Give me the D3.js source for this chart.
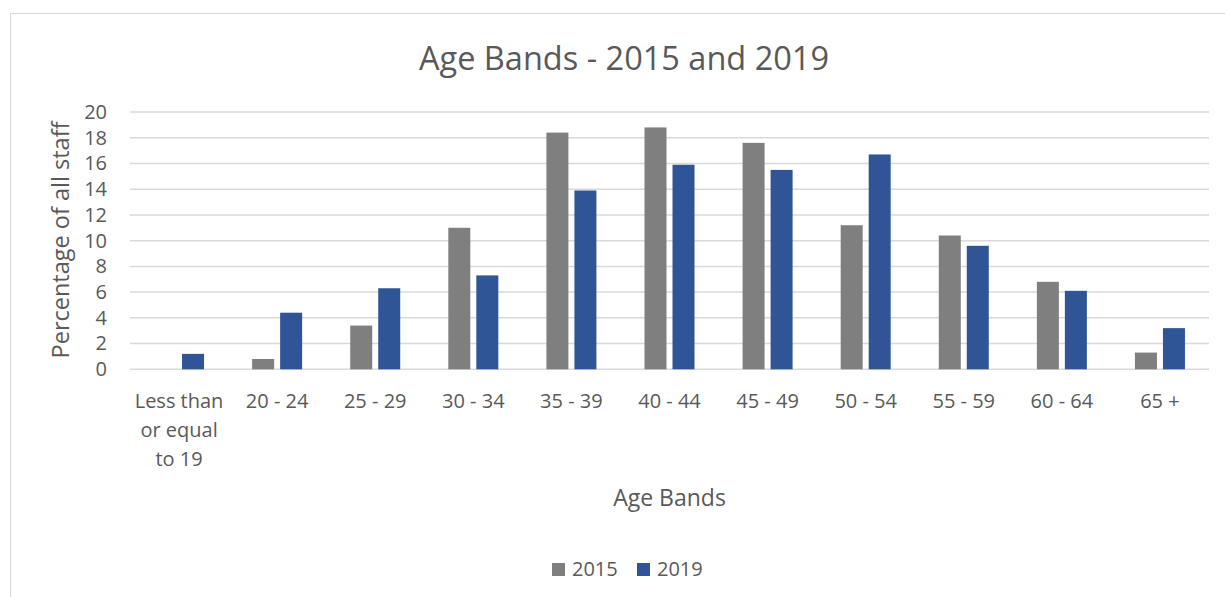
<!DOCTYPE html>
<html>
<head>
<meta charset="utf-8">
<script src="https://cdn.jsdelivr.net/npm/d3@7"></script>
<style>
  html, body { margin: 0; padding: 0; background: #fff; }
  svg { display: block; }
  text { font-family: "Open Sans", "Lato", sans-serif; fill: #595959; }
</style>
</head>
<body>
<svg id="chart" width="1225" height="597"></svg>
<script>
// Age band categories (x axis)
const categories = [
  "Less than or equal to 19", "20 - 24", "25 - 29", "30 - 34", "35 - 39",
  "40 - 44", "45 - 49", "50 - 54", "55 - 59", "60 - 64", "65 +"
];
// Labels wrapped onto lines as drawn under the axis
const categoryLines = [
  ["Less than", "or equal", "to 19"], ["20 - 24"], ["25 - 29"], ["30 - 34"], ["35 - 39"],
  ["40 - 44"], ["45 - 49"], ["50 - 54"], ["55 - 59"], ["60 - 64"], ["65 +"]
];
// Percentage of all staff per band
const series = ["2015", "2019"];
const values2015 = [0, 0.8, 3.4, 11.0, 18.4, 18.8, 17.6, 11.2, 10.4, 6.8, 1.3];
const values2019 = [1.2, 4.4, 6.3, 7.3, 13.9, 15.9, 15.5, 16.7, 9.6, 6.1, 3.2];
const yTicks = [0, 2, 4, 6, 8, 10, 12, 14, 16, 18, 20];
const colors = { "2015": "#7f7f7f", "2019": "#2f5597" };

const rows = categories.map((c, i) => ({ cat: c, lines: categoryLines[i], "2015": values2015[i], "2019": values2019[i] }));

const svg = d3.select("#chart");

// outer chart frame
svg.append("rect")
  .attr("x", 10.5).attr("y", 13.5)
  .attr("width", 1240).attr("height", 620)
  .attr("fill", "none").attr("stroke", "#d9d9d9").attr("stroke-width", 1);

const plot = { left: 130, right: 1209, top: 112, bottom: 369.3 };

const x0 = d3.scaleBand().domain(categories).range([plot.left, plot.right]).paddingInner(0).paddingOuter(0);
const bw = x0.bandwidth();
const x1 = d3.scaleBand().domain(series).range([bw / 2 - 25, bw / 2 + 25]).paddingInner(6 / 28).paddingOuter(0);
const y = d3.scaleLinear().domain([0, 20]).range([plot.bottom, plot.top]);

// horizontal gridlines
svg.append("g").selectAll("line").data(yTicks).join("line")
  .attr("x1", plot.left).attr("x2", plot.right)
  .attr("y1", d => y(d)).attr("y2", d => y(d))
  .attr("stroke", "#d9d9d9").attr("stroke-width", 1.5);

// y axis tick labels
const yAxis = d3.axisLeft(y).tickValues(yTicks).tickSize(0).tickPadding(0).tickFormat(d3.format("d"));
const gy = svg.append("g").attr("transform", `translate(107,0)`).call(yAxis);
gy.select(".domain").remove();
gy.selectAll("text").attr("font-size", 20).attr("fill", "#595959")
  .style("font-family", '"Open Sans", "Lato", sans-serif');

// bars
const groups = svg.append("g").selectAll("g").data(rows).join("g")
  .attr("transform", d => `translate(${x0(d.cat)},0)`);
groups.selectAll("rect").data(d => series.map(s => ({ s, v: d[s] }))).join("rect")
  .attr("x", d => x1(d.s))
  .attr("width", x1.bandwidth())
  .attr("y", d => y(d.v))
  .attr("height", d => y(0) - y(d.v))
  .attr("fill", d => colors[d.s]);

// x axis category labels (multi-line)
const xl = svg.append("g").selectAll("text").data(rows).join("text")
  .attr("text-anchor", "middle")
  .attr("font-size", 20)
  .attr("x", d => x0(d.cat) + bw / 2)
  .attr("y", 408);
xl.selectAll("tspan").data(d => d.lines.map(l => ({ l, x: x0(d.cat) + bw / 2 }))).join("tspan")
  .attr("x", d => d.x)
  .attr("dy", (d, i) => i === 0 ? 0 : 29)
  .text(d => d.l);

// title
svg.append("text").attr("x", 624).attr("y", 70).attr("text-anchor", "middle")
  .attr("font-size", 32.5).text("Age Bands - 2015 and 2019");

// axis titles
svg.append("text").attr("x", 669.5).attr("y", 506).attr("text-anchor", "middle")
  .attr("font-size", 23).text("Age Bands");
svg.append("text").attr("transform", "translate(69,240) rotate(-90)").attr("text-anchor", "middle")
  .attr("font-size", 23.5).text("Percentage of all staff");

// legend
const legendItems = [{ s: "2015", x: 552 }, { s: "2019", x: 637 }];
const lg = svg.append("g").selectAll("g").data(legendItems).join("g")
  .attr("transform", d => `translate(${d.x},563)`);
lg.append("rect").attr("width", 13).attr("height", 13).attr("fill", d => colors[d.s]);
lg.append("text").attr("x", 20).attr("y", 12.5).attr("font-size", 20).text(d => d.s);
</script>
</body>
</html>
